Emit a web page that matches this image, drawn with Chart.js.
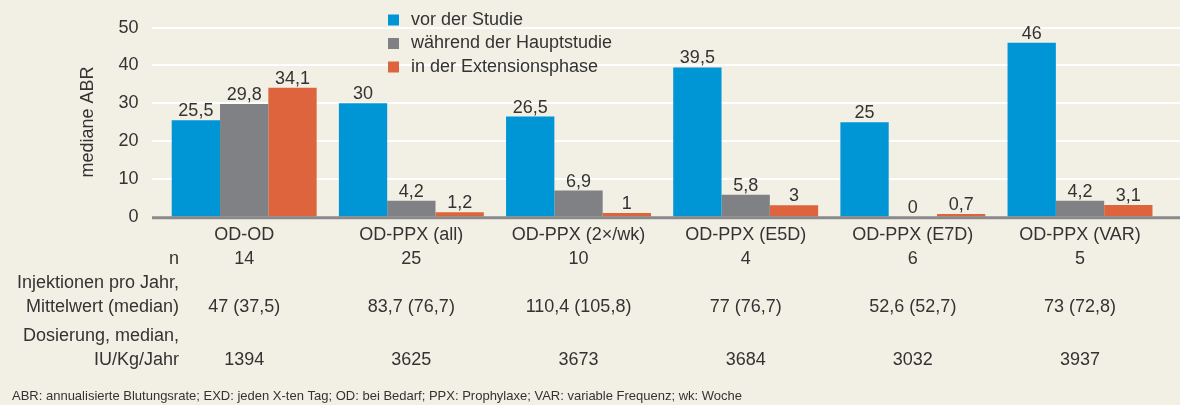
<!DOCTYPE html>
<html>
<head>
<meta charset="utf-8">
<script src="https://cdn.jsdelivr.net/npm/chart.js@4.4.1/dist/chart.umd.min.js"></script>
<style>
  html, body { margin: 0; padding: 0; background: #f2efe4; }
  #wrap { width: 1180px; height: 405px; position: relative; }
</style>
</head>
<body>
<div id="wrap"><canvas id="myChart"></canvas></div>
<script>
// chart data
var categories = ["OD-OD", "OD-PPX (all)", "OD-PPX (2×/wk)", "OD-PPX (E5D)", "OD-PPX (E7D)", "OD-PPX (VAR)"];
var seriesNames = ["vor der Studie", "während der Hauptstudie", "in der Extensionsphase"];
var vorStudie = [25.5, 30, 26.5, 39.5, 25, 46];
var hauptstudie = [29.8, 4.2, 6.9, 5.8, 0, 4.2];
var extension = [34.1, 1.2, 1, 3, 0.7, 3.1];
var yTicks = [0, 10, 20, 30, 40, 50];

// table under the chart
var nValues = ["14", "25", "10", "4", "6", "5"];
var injektionen = ["47 (37,5)", "83,7 (76,7)", "110,4 (105,8)", "77 (76,7)", "52,6 (52,7)", "73 (72,8)"];
var dosierung = ["1394", "3625", "3673", "3684", "3032", "3937"];
var footnote = "ABR: annualisierte Blutungsrate; EXD: jeden X-ten Tag; OD: bei Bedarf; PPX: Prophylaxe; VAR: variable Frequenz; wk: Woche";

var FONT = "'Liberation Sans', Arial, sans-serif";
var TXT = "#333333";
var colors = ["#0096d6", "#808184", "#dd643c"];

function fmt(v){
  return String(v).replace(".", ",");
}

// white grid lines + grey baseline, wider than the bar area
var gridPlugin = {
  id: "grid",
  beforeDatasetsDraw: function(chart){
    var ctx = chart.ctx, y = chart.scales.y;
    ctx.save();
    ctx.strokeStyle = "#ffffff";
    ctx.lineWidth = 2;
    yTicks.forEach(function(t){
      if (t === 0) return;
      var py = Math.round(y.getPixelForValue(t));
      ctx.beginPath();
      ctx.moveTo(152, py);
      ctx.lineTo(1180, py);
      ctx.stroke();
    });
    ctx.restore();
  },
  afterDatasetsDraw: function(chart){
    var ctx = chart.ctx, y = chart.scales.y;
    var py = y.getPixelForValue(0);
    ctx.save();
    ctx.strokeStyle = "#8a8a8c";
    ctx.lineWidth = 3;
    ctx.beginPath();
    ctx.moveTo(152, py + 1);
    ctx.lineTo(1180, py + 1);
    ctx.stroke();

    // value labels above bars
    ctx.fillStyle = TXT;
    ctx.font = "18px " + FONT;
    ctx.textAlign = "center";
    ctx.textBaseline = "alphabetic";
    chart.data.datasets.forEach(function(ds, di){
      var meta = chart.getDatasetMeta(di);
      meta.data.forEach(function(bar, i){
        ctx.fillText(fmt(ds.data[i]), bar.x, bar.y - 4);
      });
    });
    ctx.restore();
  }
};

// legend, y title, table and footnote
var extrasPlugin = {
  id: "extras",
  afterDraw: function(chart){
    var ctx = chart.ctx, x = chart.scales.x;
    ctx.save();
    ctx.fillStyle = TXT;
    ctx.font = "18px " + FONT;

    // legend
    ctx.textBaseline = "middle";
    ctx.textAlign = "left";
    seriesNames.forEach(function(name, i){
      var ly = 20 + i * 23.5;
      ctx.fillStyle = colors[i];
      ctx.fillRect(388, ly - 5.5, 11, 11);
      ctx.fillStyle = TXT;
      ctx.fillText(name, 411, ly);
    });

    // y axis title
    ctx.save();
    ctx.translate(88, 122);
    ctx.rotate(-Math.PI / 2);
    ctx.textAlign = "center";
    ctx.fillText("mediane ABR", 0, 0);
    ctx.restore();

    // table
    ctx.textAlign = "right";
    ctx.fillText("n", 179, 259);
    ctx.fillText("Injektionen pro Jahr,", 179, 283);
    ctx.fillText("Mittelwert (median)", 179, 307);
    ctx.fillText("Dosierung, median,", 179, 336);
    ctx.fillText("IU/Kg/Jahr", 179, 360);

    ctx.textAlign = "center";
    categories.forEach(function(c, i){
      var cx = x.getPixelForValue(i);
      ctx.fillText(c, cx, 235);
      ctx.fillText(nValues[i], cx, 259);
      ctx.fillText(injektionen[i], cx, 307);
      ctx.fillText(dosierung[i], cx, 360);
    });

    // footnote
    ctx.textAlign = "left";
    ctx.font = "13px " + FONT;
    ctx.fillText(footnote, 12, 396);
    ctx.restore();
  }
};

var ctx = document.getElementById("myChart").getContext("2d");
var myChart = new Chart(ctx, {
  type: "bar",
  data: {
    labels: categories,
    datasets: [
      { label: seriesNames[0], data: vorStudie, backgroundColor: colors[0] },
      { label: seriesNames[1], data: hauptstudie, backgroundColor: colors[1] },
      { label: seriesNames[2], data: extension, backgroundColor: colors[2] }
    ]
  },
  options: {
    responsive: true,
    maintainAspectRatio: false,
    animation: false,
    events: [],
    datasets: {
      bar: { categoryPercentage: 0.867, barPercentage: 1.0 }
    },
    layout: {
      padding: { top: 27.7, right: 16.4, bottom: 188.3, left: 0 }
    },
    plugins: {
      legend: { display: false },
      tooltip: { enabled: false }
    },
    scales: {
      x: {
        display: false
      },
      y: {
        min: 0,
        max: 50,
        afterFit: function(s){
          s.width = 160.6;
          s.paddingTop = 0;
          s.paddingBottom = 0;
        },
        afterBuildTicks: function(s){
          s.ticks = yTicks.map(function(v){ return { value: v }; });
        },
        grid: { display: false, drawTicks: false },
        border: { display: false },
        ticks: {
          padding: 22,
          color: TXT,
          font: { family: FONT, size: 18 }
        }
      }
    }
  },
  plugins: [gridPlugin, extrasPlugin]
});
</script>
</body>
</html>
